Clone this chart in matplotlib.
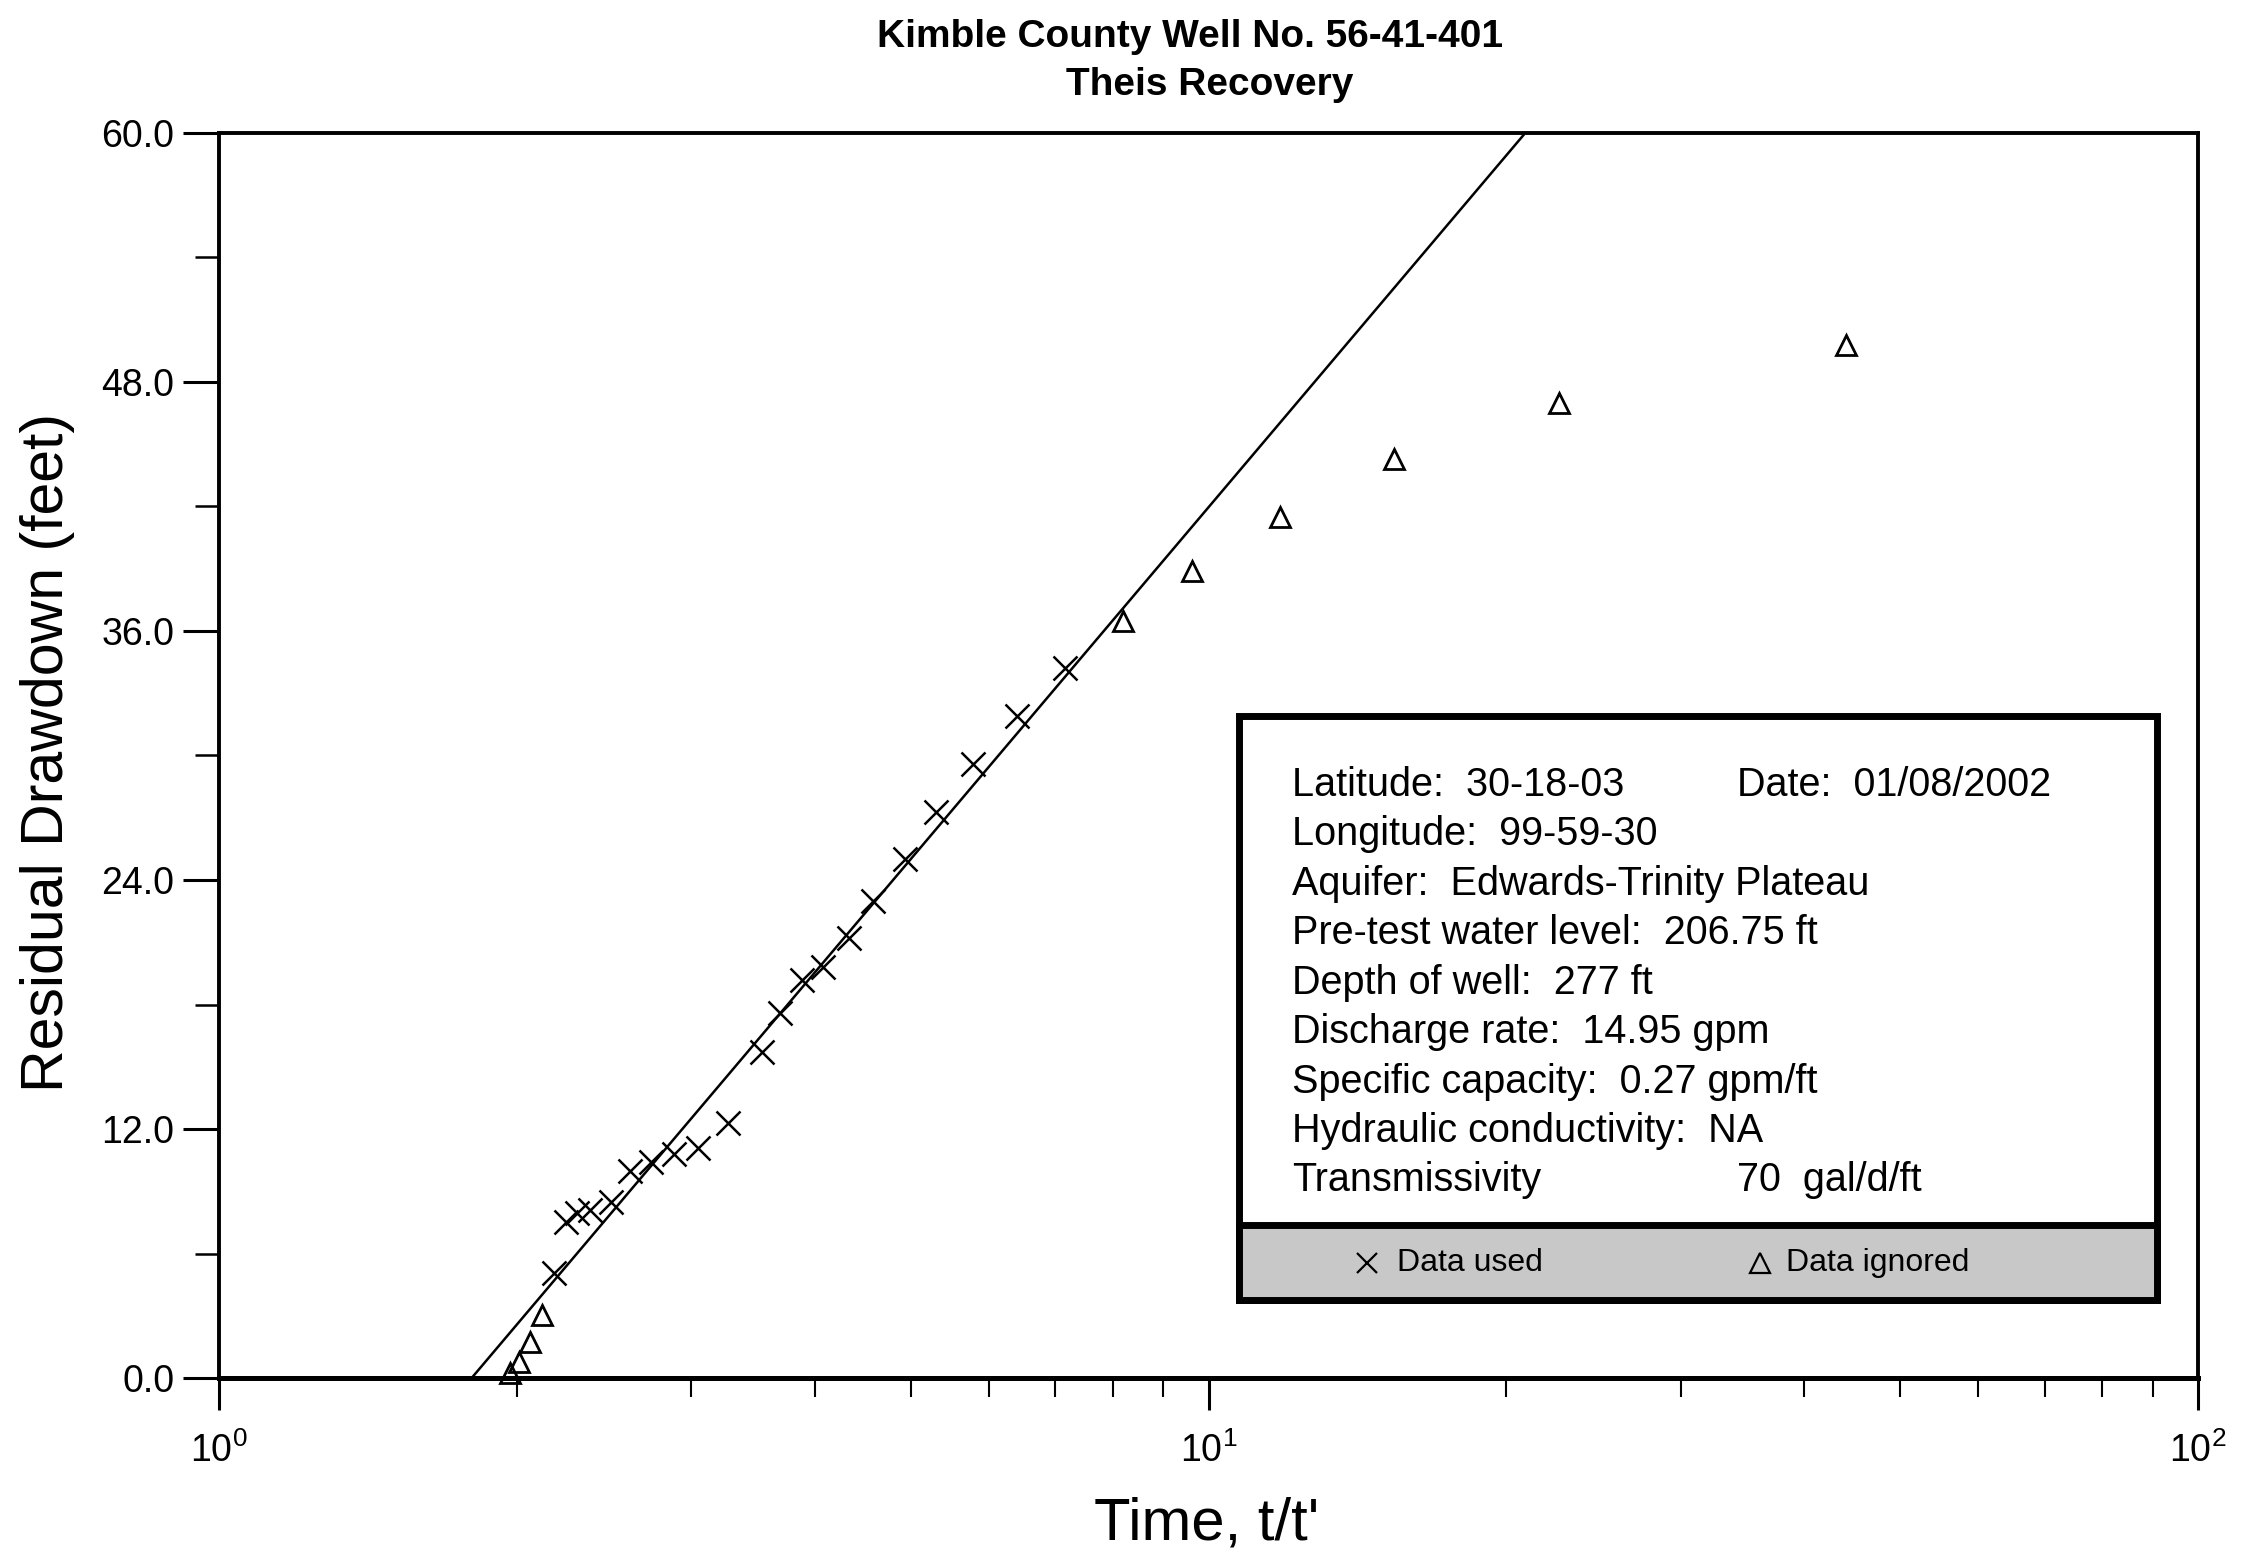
import matplotlib
matplotlib.use('Agg')
import matplotlib.pyplot as plt
from matplotlib.patches import Rectangle
from matplotlib.ticker import MultipleLocator, FormatStrFormatter, LogLocator, NullFormatter

"""
Theis recovery plot: residual drawdown vs t/t' on a log axis,
with a well info box in the lower right.
"""

plt.rcParams['font.family'] = ['Liberation Sans', 'DejaVu Sans']
plt.rcParams['mathtext.fontset'] = 'custom'
plt.rcParams['mathtext.rm'] = 'Liberation Sans'

# data
used_t = [2.18, 2.24, 2.30, 2.37, 2.49, 2.60, 2.73, 2.88, 3.05, 3.27, 3.54,
          3.69, 3.88, 4.08, 4.33, 4.58, 4.94, 5.31, 5.78, 6.40, 7.16]
used_s = [5.06, 7.52, 7.95, 8.10, 8.48, 10.0, 10.4, 10.8, 11.1, 12.3, 15.7,
          17.6, 19.2, 19.8, 21.2, 23.0, 25.0, 27.3, 29.6, 31.9, 34.2]
ignored_t = [1.97, 2.01, 2.06, 2.12, 8.20, 9.63, 11.8, 15.4, 22.6, 44.1]
ignored_s = [0.24, 0.77, 1.73, 3.04, 36.5, 38.9, 41.5, 44.3, 47.0, 49.8]
fit_t = [1.80, 20.9]
fit_s = [0.0, 60.0]

title_lines = ['Kimble County Well No. 56-41-401', 'Theis Recovery']
info_left = ['Latitude:  30-18-03',
             'Longitude:  99-59-30',
             'Aquifer:  Edwards-Trinity Plateau',
             'Pre-test water level:  206.75 ft',
             'Depth of well:  277 ft',
             'Discharge rate:  14.95 gpm',
             'Specific capacity:  0.27 gpm/ft',
             'Hydraulic conductivity:  NA',
             'Transmissivity']
info_right = {0: 'Date:  01/08/2002', 8: '70  gal/d/ft'}


def draw_info_box(ax):
    # outer white box + grey legend strip
    ax.add_patch(Rectangle((0.5154, 0.0627), 0.4639, 0.469, transform=ax.transAxes,
                           fc='white', ec='black', lw=5, zorder=5, clip_on=False))
    ax.add_patch(Rectangle((0.5154, 0.0627), 0.4639, 0.0602, transform=ax.transAxes,
                           fc='#c8c8c8', ec='black', lw=5, zorder=6, clip_on=False))
    y0 = 0.4675
    step = 0.0397
    for i, line in enumerate(info_left):
        ax.text(0.5422, y0 - i*step, line, transform=ax.transAxes, fontsize=28.5,
                va='baseline', ha='left', zorder=7)
    for i, line in info_right.items():
        ax.text(0.7671, y0 - i*step, line, transform=ax.transAxes, fontsize=28.5,
                va='baseline', ha='left', zorder=7)
    # legend row
    ly = 0.0925
    ax.plot([0.5801], [ly], 'x', ms=15, mew=1.6, color='black', transform=ax.transAxes,
            zorder=8, clip_on=False)
    ax.text(0.5953, ly, 'Data used', transform=ax.transAxes, fontsize=23,
            va='center', ha='left', zorder=8)
    ax.plot([0.7787], [ly], '^', ms=14, mew=1.6, mfc='none', mec='black',
            transform=ax.transAxes, zorder=8, clip_on=False)
    ax.text(0.7918, ly, 'Data ignored', transform=ax.transAxes, fontsize=23,
            va='center', ha='left', zorder=8)


fig = plt.figure(figsize=(22.44, 15.55), dpi=100)
ax = fig.add_axes([0.0976, 0.1138, 0.8819, 0.8007])

ax.plot(fit_t, fit_s, color='black', lw=1.8)
ax.plot(used_t, used_s, 'x', ms=17, mew=1.8, color='black', clip_on=False)
ax.plot(ignored_t, ignored_s, '^', ms=15, mew=2, mfc='none', mec='black', clip_on=False)

ax.set_xscale('log')
ax.set_xlim(1, 100)
ax.set_ylim(0, 60)
ax.xaxis.set_major_locator(LogLocator(base=10))
ax.xaxis.set_minor_locator(LogLocator(base=10, subs=range(2, 10)))
ax.xaxis.set_minor_formatter(NullFormatter())
ax.yaxis.set_major_locator(MultipleLocator(12))
ax.yaxis.set_minor_locator(MultipleLocator(6))
ax.yaxis.set_major_formatter(FormatStrFormatter('%.1f'))

ax.tick_params(axis='x', which='major', direction='out', length=23, width=2.2,
               pad=16, labelsize=27)
ax.tick_params(axis='x', which='minor', direction='out', length=14, width=1.5)
ax.tick_params(axis='y', which='major', direction='out', length=26, width=2.2,
               pad=6, labelsize=27)
ax.tick_params(axis='y', which='minor', direction='out', length=17, width=1.8)

for side in ['left', 'top', 'right']:
    ax.spines[side].set_linewidth(2.8)
ax.spines['bottom'].set_linewidth(3.6)

draw_info_box(ax)

fig.text(1190/2244, 0.9698, title_lines[0], fontsize=28, fontweight='bold',
         ha='center', va='baseline')
fig.text(1210/2244, 0.9389, title_lines[1], fontsize=28, fontweight='bold',
         ha='center', va='baseline')
fig.text(1207/2244, 0.0097, "Time, t/t'", fontsize=43, ha='center', va='baseline')
fig.text(48/2244, 0.516, 'Residual Drawdown (feet)', fontsize=42.5, rotation=90,
         ha='center', va='center')

fig.savefig('out.png', dpi=100, facecolor='white')
